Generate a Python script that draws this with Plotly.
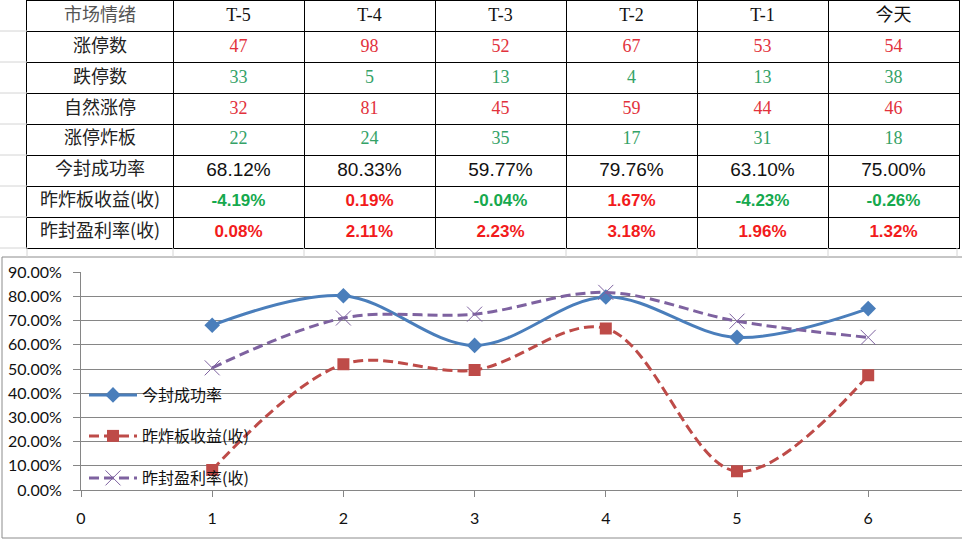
import plotly.graph_objects as go

W, H = 962, 539

# ---------------- data ----------------
periods = ["T-5", "T-4", "T-3", "T-2", "T-1", "今天"]
corner_label = "市场情绪"
row_labels = ["涨停数", "跌停数", "自然涨停", "涨停炸板", "今封成功率", "昨炸板收益(收)", "昨封盈利率(收)"]
zhangting = [47, 98, 52, 67, 53, 54]
dieting = [33, 5, 13, 4, 13, 38]
ziran_zt = [32, 81, 45, 59, 44, 46]
zhaban = [22, 24, 35, 17, 31, 18]
fengban_rate = [68.12, 80.33, 59.77, 79.76, 63.10, 75.00]
zhaban_ret = [-4.19, 0.19, -0.04, 1.67, -4.23, -0.26]
feng_profit = [0.08, 2.11, 2.23, 3.18, 1.96, 1.32]

x_vals = [1, 2, 3, 4, 5, 6]
s_success = [0.6812, 0.8033, 0.5977, 0.7976, 0.6310, 0.7500]
s_zhaban = [0.083, 0.520, 0.496, 0.668, 0.077, 0.474]
s_feng = [0.505, 0.711, 0.727, 0.817, 0.698, 0.631]

# ---------------- styles ----------------
RED_L = "#E2323C"
GREEN_L = "#34A267"
RED_B = "#F21B1B"
GREEN_B = "#16A94E"
CJK = "Noto Sans CJK SC"
SERIF = "Liberation Serif"
SANS = "Liberation Sans"
BLUE = "#4A7EBB"
RED = "#BE4B48"
PURPLE = "#7E62A0"
GRID = "#868686"

COL_W = [146, 131, 131, 131, 131, 131, 131]
ROW_H = 31
N_ROWS = 8


def px(v):
    return v / W


def py(v):
    return 1 - v / H


# ---------- table built as text on its own axes ----------
col_edges = [0]
for w in COL_W:
    col_edges.append(col_edges[-1] + w)
col_centers = [(col_edges[i] + col_edges[i + 1]) / 2 for i in range(len(COL_W))]
row_centers = [ROW_H * (r + 0.5) for r in range(N_ROWS)]

t_x, t_y, t_text, t_fam, t_size, t_col = [], [], [], [], [], []


def put(c, r, text, fam, size, color):
    t_x.append(col_centers[c])
    t_y.append(row_centers[r])
    t_text.append(text)
    t_fam.append(fam)
    t_size.append(size)
    t_col.append(color)


put(0, 0, corner_label, CJK, 18, "#555555")
for i, p in enumerate(periods):
    put(i + 1, 0, p, CJK if p == "今天" else SERIF, 18, "#111111")
for r, lab in enumerate(row_labels):
    put(0, r + 1, lab, CJK, 18, "#222222")
for i in range(6):
    c = i + 1
    put(c, 1, str(zhangting[i]), SERIF, 18, RED_L)
    put(c, 2, str(dieting[i]), SERIF, 18, GREEN_L)
    put(c, 3, str(ziran_zt[i]), SERIF, 18, RED_L)
    put(c, 4, str(zhaban[i]), SERIF, 18, GREEN_L)
    put(c, 5, f"{fengban_rate[i]:.2f}%", SANS, 19, "#111111")
    put(c, 6, f"<b>{zhaban_ret[i]:.2f}%</b>", SANS, 17, RED_B if zhaban_ret[i] > 0 else GREEN_B)
    put(c, 7, f"<b>{feng_profit[i]:.2f}%</b>", SANS, 17, RED_B if feng_profit[i] > 0 else GREEN_B)

fig = go.Figure()

fig.add_trace(go.Scatter(
    x=t_x, y=t_y, text=t_text, mode="text", textposition="middle center",
    textfont=dict(family=t_fam, size=t_size, color=t_col),
    xaxis="x2", yaxis="y2", showlegend=False, hoverinfo="skip", cliponaxis=False,
))

# ---------- chart ----------
fig.add_trace(go.Scatter(
    x=x_vals, y=s_success, name="今封成功率", mode="lines+markers",
    line=dict(color=BLUE, width=3, shape="spline", smoothing=1),
    marker=dict(symbol="diamond", size=12, color=BLUE),
    legend="legend", showlegend=True,
))
fig.add_trace(go.Scatter(
    x=x_vals, y=s_zhaban, name="昨炸板收益(收)", mode="lines+markers",
    line=dict(color=RED, width=3, shape="spline", smoothing=1, dash="10px,5px"),
    marker=dict(symbol="square", size=12, color=RED),
    legend="legend2", showlegend=True,
))
fig.add_trace(go.Scatter(
    x=x_vals, y=s_feng, name="昨封盈利率(收)", mode="lines+markers",
    line=dict(color=PURPLE, width=3, shape="spline", smoothing=1, dash="10px,5px"),
    marker=dict(symbol="x-thin", size=15, color=PURPLE, line=dict(color=PURPLE, width=1)),
    legend="legend3", showlegend=True,
))

# decorative spreadsheet grid + chart frame
shapes = []
for yy in [31, 62, 93, 124, 155, 186, 217, 248]:
    shapes.append(dict(type="line", xref="paper", yref="paper",
                       x0=0, x1=px(27), y0=py(yy), y1=py(yy),
                       line=dict(color="#D4D4D4", width=1)))
for xx in [27, 173, 304, 435, 566, 697, 828, 957]:
    shapes.append(dict(type="line", xref="paper", yref="paper",
                       x0=px(xx), x1=px(xx), y0=py(248), y1=py(257),
                       line=dict(color="#D4D4D4", width=1)))
shapes.append(dict(type="rect", xref="paper", yref="paper",
                   x0=px(2), x1=px(1000), y0=py(538), y1=py(257),
                   line=dict(color="#8C8C8C", width=1), fillcolor="rgba(0,0,0,0)",
                   layer="below"))

leg_common = dict(bgcolor="rgba(0,0,0,0)", font=dict(family=CJK, size=16, color="#111111"),
                  xanchor="left", yanchor="middle", itemwidth=48, borderwidth=0)

fig.update_layout(
    width=W, height=H,
    margin=dict(l=0, r=0, t=0, b=0, pad=0, autoexpand=False),
    paper_bgcolor="white", plot_bgcolor="white",
    font=dict(family="Lato, " + CJK, size=15, color="#111111"),
    showlegend=True,
    shapes=shapes,
    legend=dict(x=px(84), y=py(395), **leg_common),
    legend2=dict(x=px(84), y=py(436), **leg_common),
    legend3=dict(x=px(84), y=py(478), **leg_common),
    xaxis=dict(domain=[px(81), 1], range=[0, 881 / 131.2], tickmode="array",
               tickvals=[0, 1, 2, 3, 4, 5, 6], ticks="outside", ticklen=6,
               tickcolor=GRID, showline=True, linecolor=GRID, linewidth=1,
               showgrid=False, zeroline=False, ticklabelstandoff=8, automargin=False,
               tickfont=dict(family="Lato", size=16, color="#111111")),
    yaxis=dict(domain=[py(490), py(272.3)], range=[0, 0.9], tickmode="array",
               tickvals=[0, 0.1, 0.2, 0.3, 0.4, 0.5, 0.6, 0.7, 0.8, 0.9],
               tickformat=".2%", ticks="outside", ticklen=7, tickcolor=GRID,
               showline=True, linecolor=GRID, linewidth=1,
               showgrid=True, gridcolor=GRID, gridwidth=1, zeroline=False,
               ticklabelstandoff=8, automargin=False,
               tickfont=dict(family="Lato", size=16, color="#111111")),
    xaxis2=dict(domain=[px(27), px(27 + col_edges[-1])], range=[0, col_edges[-1]],
                tickmode="array", tickvals=col_edges[1:-1], showticklabels=False,
                showgrid=True, gridcolor="black", gridwidth=1, zeroline=False,
                showline=True, mirror=True, linecolor="black", linewidth=1,
                ticks="", anchor="y2", fixedrange=True, automargin=False),
    yaxis2=dict(domain=[py(ROW_H * N_ROWS), py(1)], range=[ROW_H * N_ROWS, 0],
                tickmode="array", tickvals=[ROW_H * k for k in range(1, N_ROWS)],
                showticklabels=False, showgrid=True, gridcolor="black", gridwidth=1,
                zeroline=False, showline=True, mirror=True, linecolor="black",
                linewidth=1, ticks="", anchor="x2", fixedrange=True, automargin=False),
)

fig.write_html("out.html")
